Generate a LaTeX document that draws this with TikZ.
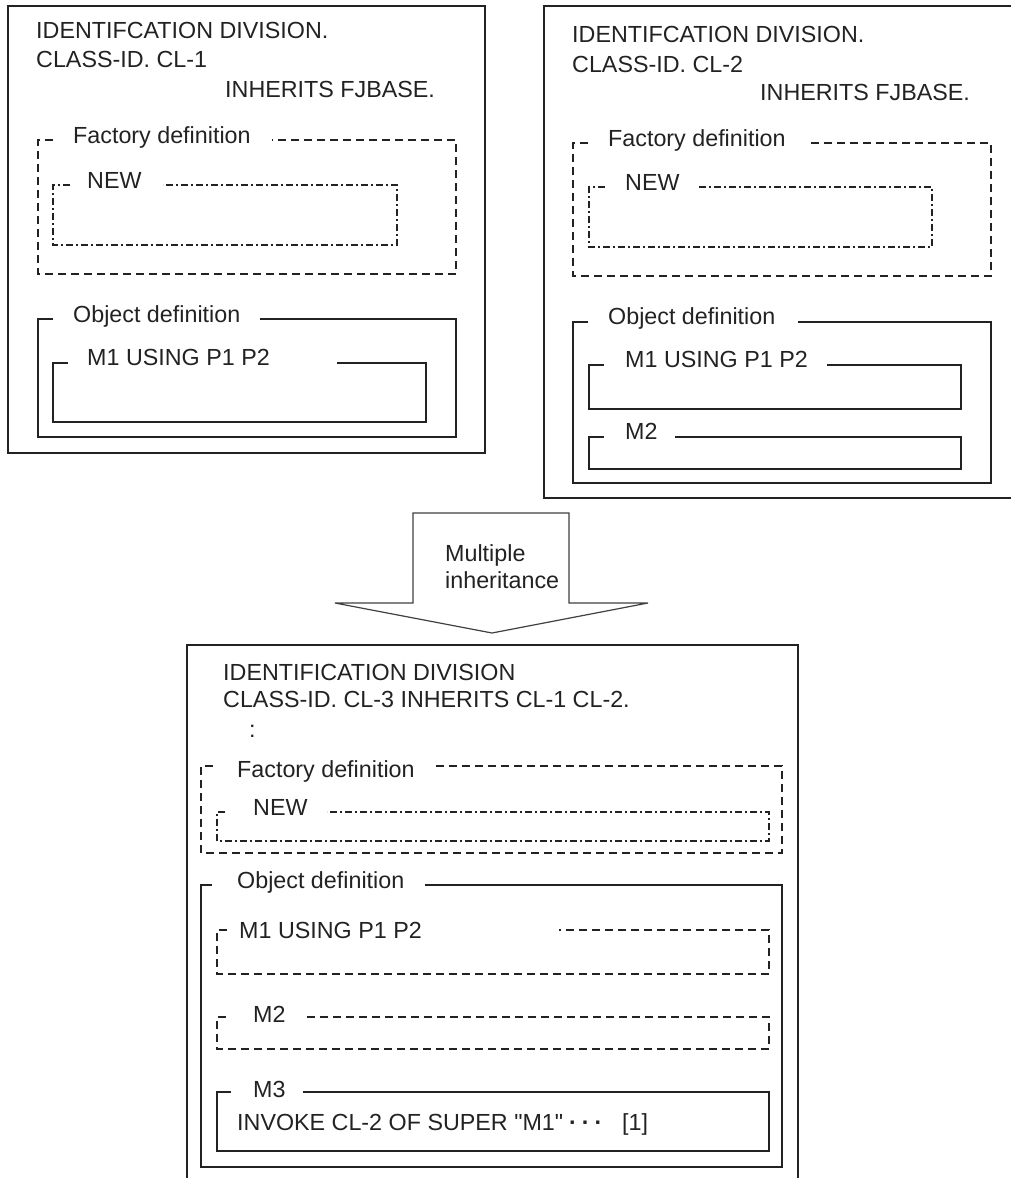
\documentclass[tikz,border=0pt]{standalone}
\usepackage{fontspec}
\setmainfont{Liberation Sans}
\definecolor{ink}{HTML}{222222}
\newcommand\gbox[7]{%
  \draw[#1] (#6,#3) -- (#2,#3) -- (#2,#5) -- (#4,#5) -- (#4,#3) -- (#7,#3);}
\tikzset{
  lbl/.style={anchor=base west, inner sep=0pt, text=ink, font=\fontsize{23.3}{27}\selectfont},
  solidbox/.style={draw=ink, line width=1.6pt},
  dashbox/.style={draw=ink, line width=1.5pt, dash pattern=on 8pt off 5pt},
  dotdashbox/.style={draw=ink, line width=1.3pt, dash pattern=on 7pt off 3pt on 2pt off 3pt},
  arrowshape/.style={draw=black!75, line width=1.2pt, fill=white, line join=miter}
}
\begin{document}
\begin{tikzpicture}[x=1pt,y=-1pt]
\useasboundingbox (0,0) rectangle (1010,1178);

% ---------- Box CL-1 ----------
\draw[solidbox] (8,6) rectangle (485,453);
\node[lbl] (a1) at (36,38) {IDENTIFCATION DIVISION.};
\node[lbl] (a2) at (36,67) {CLASS-ID. CL-1};
\node[lbl] (a3) at (225,97) {INHERITS FJBASE.};
\gbox{dashbox}{38}{140}{456}{274}{53}{272}
\node[lbl] (afac) at (73,143) {Factory definition};
\gbox{dotdashbox}{53}{185}{397}{245}{70}{163}
\node[lbl] (anew) at (87,188) {NEW};
\gbox{solidbox}{38}{319}{456}{437}{53}{260}
\node[lbl] (aobj) at (73,322) {Object definition};
\gbox{solidbox}{53}{363}{426}{422}{68}{337}
\node[lbl] (am1) at (87,365) {M1 USING P1 P2};

% ---------- Box CL-2 ----------
\draw[solidbox] (1016,6) -- (544,6) -- (544,498) -- (1016,498);
\node[lbl] (b1) at (572,42) {IDENTIFCATION DIVISION.};
\node[lbl] (b2) at (572,72) {CLASS-ID. CL-2};
\node[lbl] (b3) at (760,100) {INHERITS FJBASE.};
\gbox{dashbox}{573}{143}{991}{276}{588}{807}
\node[lbl] (bfac) at (608,146) {Factory definition};
\gbox{dotdashbox}{589}{187}{932}{247}{605}{698}
\node[lbl] (bnew) at (625,190) {NEW};
\gbox{solidbox}{573}{322}{991}{483}{588}{798}
\node[lbl] (bobj) at (608,324) {Object definition};
\gbox{solidbox}{589}{365}{961}{409}{604}{827}
\node[lbl] (bm1) at (625,367) {M1 USING P1 P2};
\gbox{solidbox}{589}{437}{961}{469}{604}{675}
\node[lbl] (bm2) at (625,439) {M2};

% ---------- Arrow ----------
\draw[arrowshape] (413,513) -- (569,513) -- (569,603) -- (648,603) -- (492,633)
  -- (335,603) -- (413,603) -- cycle;
\node[lbl] (arr1) at (445,561) {Multiple};
\node[lbl] (arr2) at (445,588) {inheritance};

% ---------- Box CL-3 ----------
\draw[solidbox] (187,1190) -- (187,645) -- (798,645) -- (798,1190);
\node[lbl] (c1) at (223,680) {IDENTIFICATION DIVISION};
\node[lbl] (c2) at (223,707) {CLASS-ID. CL-3 INHERITS CL-1 CL-2.};
\node[lbl] (c3) at (249,737) {:};
\gbox{dashbox}{201}{766}{782}{853}{213}{433}
\node[lbl] (cfac) at (237,777) {Factory definition};
\gbox{dotdashbox}{217}{812}{769}{841}{225}{327}
\node[lbl] (cnew) at (253,815) {NEW};
\gbox{solidbox}{201}{885}{782}{1167}{212}{425}
\node[lbl] (cobj) at (237,888) {Object definition};
\gbox{dashbox}{217}{930}{769}{974}{227}{559}
\node[lbl] (cm1) at (239,938) {M1 USING P1 P2};
\gbox{dashbox}{217}{1017}{769}{1049}{226}{306}
\node[lbl] (cm2) at (253,1022) {M2};
\gbox{solidbox}{217}{1092}{769}{1151}{231}{303}
\node[lbl] (cm3) at (253,1097) {M3};
\node[lbl] (cinv) at (237,1130) {INVOKE CL-2 OF SUPER \textquotedbl M1\textquotedbl};
\node[lbl] (cdots) at (569,1130) {\textbf{·\hspace{5pt}·\hspace{5pt}·}};
\node[lbl] (cref) at (622,1130) {[1]};
\end{tikzpicture}
\end{document}
